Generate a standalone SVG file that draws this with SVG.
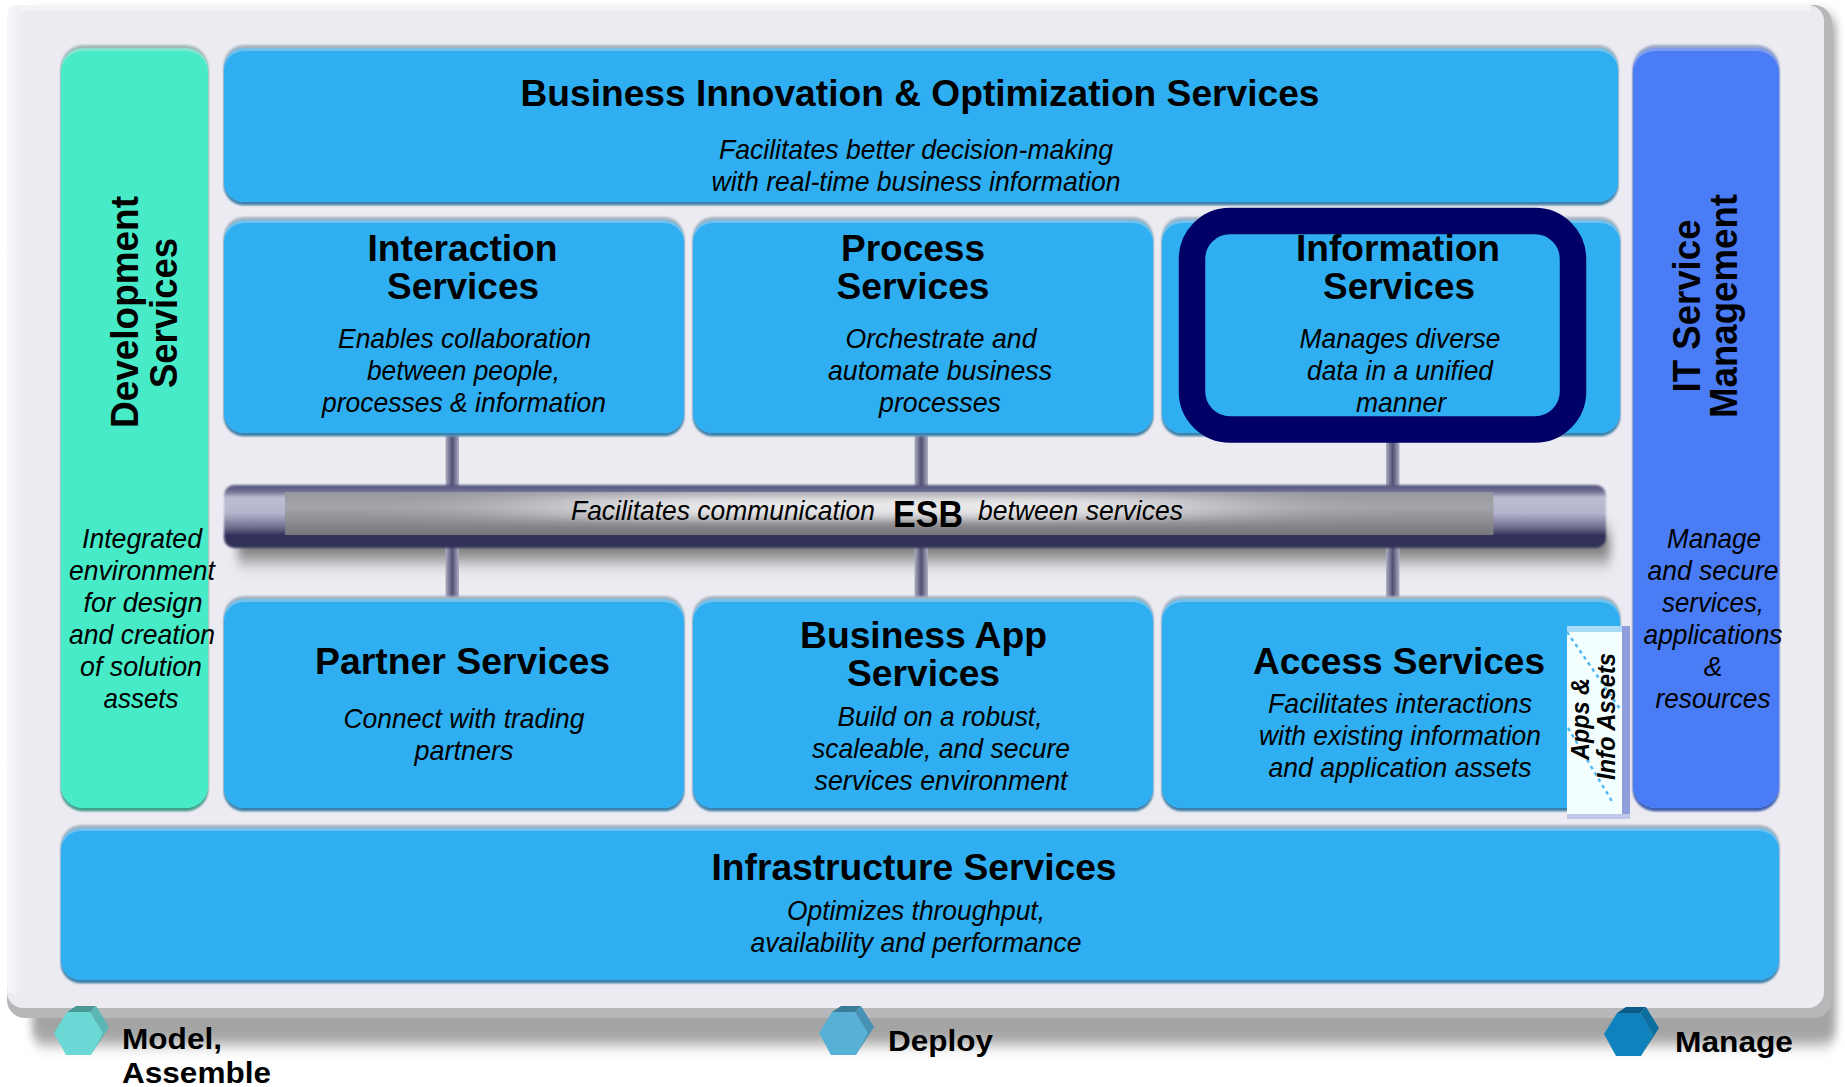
<svg xmlns="http://www.w3.org/2000/svg" width="1845" height="1087" viewBox="0 0 1845 1087">
<style>
text{font-family:"Liberation Sans",Arial,sans-serif;fill:#000;text-anchor:middle}
.t{font-weight:bold;font-size:37px}
.s{font-style:italic;font-size:28px}
.r{font-weight:bold;font-size:39px}
.l{font-weight:bold;font-size:30px;text-anchor:start}
.a{font-style:italic;font-weight:bold;font-size:26px}
.e1,.e2,.g1,.g2,.b1,.b2{filter:url(#soft)}
.e1{fill:#a3b3bf}.e2{fill:#3a80ab}.e4{fill:#72c0ec}.e3{fill:#2FAFF2}
.g1{fill:#a3b8b6}.g2{fill:#3c9f8a}.g4{fill:#86e4cf}.g3{fill:#47EBC8}
.b1{fill:#97a6c8}.b2{fill:#3c5cad}.b4{fill:#7d9cf0}.b3{fill:#4A7DF5}
.c{fill:url(#conn)}
</style>
<defs>
<filter id="soft" x="-2%" y="-2%" width="104%" height="104%"><feGaussianBlur stdDeviation="0.9"/></filter>
<filter id="blur" x="-3%" y="-5%" width="106%" height="110%"><feGaussianBlur stdDeviation="4 7"/></filter>
<filter id="blur2" x="-5%" y="-120%" width="110%" height="340%"><feGaussianBlur stdDeviation="5 9"/></filter>
<filter id="glow" x="-60%" y="-100%" width="220%" height="300%"><feGaussianBlur stdDeviation="90 5"/></filter>
<clipPath id="coreClip"><rect x="285" y="492" width="1208.500" height="43"/></clipPath>
<linearGradient id="pipe" x1="0" y1="0" x2="0" y2="1">
<stop offset="0" stop-color="#55557c"/><stop offset=".1" stop-color="#6d6d92"/><stop offset=".2" stop-color="#bcbdd3"/><stop offset=".45" stop-color="#b4b5cc"/><stop offset=".68" stop-color="#6b6b8c"/><stop offset=".8" stop-color="#2f2f58"/><stop offset="1" stop-color="#34345a"/>
</linearGradient>
<linearGradient id="core" x1="0" y1="0" x2="0" y2="1">
<stop offset="0" stop-color="#97979e"/><stop offset=".35" stop-color="#a4a4ab"/><stop offset="1" stop-color="#76767a"/>
</linearGradient>
<linearGradient id="conn" x1="0" y1="0" x2="1" y2="0">
<stop offset="0" stop-color="#aeaec2"/><stop offset=".5" stop-color="#4f4f73"/><stop offset="1" stop-color="#aeaec2"/>
</linearGradient>
<linearGradient id="rimL" x1="0" y1="0" x2="1" y2="0">
<stop offset="0" stop-color="#f8f8fa"/><stop offset="1" stop-color="#ecebf2"/>
</linearGradient>
</defs>

<g id="panel">
<rect x="32" y="14" width="1804" height="1031" rx="14" fill="#a4a4a4" filter="url(#blur)"/>
<rect x="7" y="5" width="1825" height="1013" rx="18" fill="#b7b7ba"/>
<rect x="7" y="5" width="1817" height="1003" rx="16" fill="#ecebf2"/>
<rect x="7" y="5" width="16" height="990" rx="10" fill="url(#rimL)"/>
<rect x="20" y="5" width="1790" height="6" fill="#f4f4f6"/>
</g>

<g id="development-services">
<rect x="61" y="45" width="147" height="766" rx="22" class="g1"/>
<rect x="61" y="50" width="147" height="761" rx="22" class="g2"/>
<rect x="61" y="48" width="147" height="760" rx="22" class="g4"/>
<rect x="61" y="51" width="147" height="757" rx="22" class="g3"/>
<text class="r" transform="translate(138,312) rotate(-90)" textLength="232" lengthAdjust="spacingAndGlyphs">Development</text>
<text class="r" transform="translate(177,313) rotate(-90)" textLength="150" lengthAdjust="spacingAndGlyphs">Services</text>
<text class="s" x="142" y="548" textLength="120" lengthAdjust="spacingAndGlyphs">Integrated</text>
<text class="s" x="142" y="580" textLength="146" lengthAdjust="spacingAndGlyphs">environment</text>
<text class="s" x="143" y="612" textLength="119" lengthAdjust="spacingAndGlyphs">for design</text>
<text class="s" x="142" y="644" textLength="146" lengthAdjust="spacingAndGlyphs">and creation</text>
<text class="s" x="141" y="676" textLength="122" lengthAdjust="spacingAndGlyphs">of solution</text>
<text class="s" x="141" y="708" textLength="75" lengthAdjust="spacingAndGlyphs">assets</text>
</g>

<g id="business-innovation">
<rect x="224" y="45" width="1394" height="160" rx="20" class="e1"/>
<rect x="224" y="50" width="1394" height="155" rx="20" class="e2"/>
<rect x="224" y="48" width="1394" height="154" rx="20" class="e4"/>
<rect x="224" y="51" width="1394" height="151" rx="20" class="e3"/>
<text class="t" x="920" y="106" textLength="799" lengthAdjust="spacingAndGlyphs">Business Innovation &amp; Optimization Services</text>
<text class="s" x="916" y="159" textLength="394" lengthAdjust="spacingAndGlyphs">Facilitates better decision-making</text>
<text class="s" x="916" y="191" textLength="409" lengthAdjust="spacingAndGlyphs">with real-time business information</text>
</g>

<g id="it-service-management">
<rect x="1633" y="45" width="146" height="766" rx="22" class="b1"/>
<rect x="1633" y="50" width="146" height="761" rx="22" class="b2"/>
<rect x="1633" y="48" width="146" height="760" rx="22" class="b4"/>
<rect x="1633" y="51" width="146" height="757" rx="22" class="b3"/>
<text class="r" transform="translate(1700,306) rotate(-90)" textLength="173" lengthAdjust="spacingAndGlyphs">IT Service</text>
<text class="r" transform="translate(1737,306) rotate(-90)" textLength="224" lengthAdjust="spacingAndGlyphs">Management</text>
<text class="s" x="1714" y="548" textLength="94" lengthAdjust="spacingAndGlyphs">Manage</text>
<text class="s" x="1713" y="580" textLength="131" lengthAdjust="spacingAndGlyphs">and secure</text>
<text class="s" x="1713" y="612" textLength="102" lengthAdjust="spacingAndGlyphs">services,</text>
<text class="s" x="1713" y="644" textLength="139" lengthAdjust="spacingAndGlyphs">applications</text>
<text class="s" x="1713" y="676">&amp;</text>
<text class="s" x="1713" y="708" textLength="115" lengthAdjust="spacingAndGlyphs">resources</text>
</g>

<g id="esb-shadow">
<rect x="238" y="530" width="1372" height="30" fill="#7a7a7a" filter="url(#blur2)"/>
</g>

<g id="connectors">
<rect x="445.500" y="434" width="13.500" height="54" class="c"/>
<rect x="914.500" y="434" width="13.500" height="54" class="c"/>
<rect x="1386" y="434" width="13.500" height="54" class="c"/>
<rect x="445.500" y="546" width="13.500" height="52" class="c"/>
<rect x="914.500" y="546" width="13.500" height="52" class="c"/>
<rect x="1386" y="546" width="13.500" height="52" class="c"/>
</g>

<g id="interaction-services">
<rect x="224" y="217" width="460" height="219" rx="20" class="e1"/>
<rect x="224" y="222" width="460" height="214" rx="20" class="e2"/>
<rect x="224" y="220" width="460" height="213" rx="20" class="e4"/>
<rect x="224" y="223" width="460" height="210" rx="20" class="e3"/>
<text class="t" x="462.500" y="261" textLength="190" lengthAdjust="spacingAndGlyphs">Interaction</text>
<text class="t" x="463" y="299" textLength="152" lengthAdjust="spacingAndGlyphs">Services</text>
<text class="s" x="464.500" y="348" textLength="253" lengthAdjust="spacingAndGlyphs">Enables collaboration</text>
<text class="s" x="463.500" y="380" textLength="193" lengthAdjust="spacingAndGlyphs">between people,</text>
<text class="s" x="464" y="412" textLength="284" lengthAdjust="spacingAndGlyphs">processes &amp; information</text>
</g>

<g id="process-services">
<rect x="693" y="217" width="460" height="219" rx="20" class="e1"/>
<rect x="693" y="222" width="460" height="214" rx="20" class="e2"/>
<rect x="693" y="220" width="460" height="213" rx="20" class="e4"/>
<rect x="693" y="223" width="460" height="210" rx="20" class="e3"/>
<text class="t" x="913" y="261" textLength="144" lengthAdjust="spacingAndGlyphs">Process</text>
<text class="t" x="913" y="299" textLength="153" lengthAdjust="spacingAndGlyphs">Services</text>
<text class="s" x="941" y="348" textLength="191" lengthAdjust="spacingAndGlyphs">Orchestrate and</text>
<text class="s" x="940" y="380" textLength="224" lengthAdjust="spacingAndGlyphs">automate business</text>
<text class="s" x="940" y="412" textLength="122" lengthAdjust="spacingAndGlyphs">processes</text>
</g>

<g id="information-services">
<rect x="1162" y="217" width="458" height="219" rx="20" class="e1"/>
<rect x="1162" y="222" width="458" height="214" rx="20" class="e2"/>
<rect x="1162" y="220" width="458" height="213" rx="20" class="e4"/>
<rect x="1162" y="223" width="458" height="210" rx="20" class="e3"/>
<text class="t" x="1398" y="261" textLength="204" lengthAdjust="spacingAndGlyphs">Information</text>
<text class="t" x="1399" y="299" textLength="152" lengthAdjust="spacingAndGlyphs">Services</text>
<text class="s" x="1400" y="348" textLength="201" lengthAdjust="spacingAndGlyphs">Manages diverse</text>
<text class="s" x="1400" y="380" textLength="186" lengthAdjust="spacingAndGlyphs">data in a unified</text>
<text class="s" x="1401" y="412" textLength="90" lengthAdjust="spacingAndGlyphs">manner</text>
<rect x="1192" y="221" width="381" height="208.500" rx="38" fill="none" stroke="#000066" stroke-width="26.500"/>
</g>

<g id="esb">
<rect x="224" y="485" width="1382" height="63" rx="10" fill="url(#pipe)" filter="url(#soft)"/>
<rect x="285" y="492" width="1208.500" height="43" fill="url(#core)"/>
<g clip-path="url(#coreClip)"><rect x="560" y="495" width="640" height="24" fill="#fff" opacity=".75" filter="url(#glow)"/></g>
<text class="s" x="723" y="520" textLength="304" lengthAdjust="spacingAndGlyphs">Facilitates communication</text>
<text class="t" x="928" y="527" textLength="70" lengthAdjust="spacingAndGlyphs">ESB</text>
<text class="s" x="1080.500" y="520" textLength="205" lengthAdjust="spacingAndGlyphs">between services</text>
</g>

<g id="partner-services">
<rect x="224" y="596" width="460" height="215" rx="20" class="e1"/>
<rect x="224" y="601" width="460" height="210" rx="20" class="e2"/>
<rect x="224" y="599" width="460" height="209" rx="20" class="e4"/>
<rect x="224" y="602" width="460" height="206" rx="20" class="e3"/>
<text class="t" x="462.500" y="674" textLength="295" lengthAdjust="spacingAndGlyphs">Partner Services</text>
<text class="s" x="464" y="728" textLength="241" lengthAdjust="spacingAndGlyphs">Connect with trading</text>
<text class="s" x="464" y="760" textLength="99" lengthAdjust="spacingAndGlyphs">partners</text>
</g>

<g id="business-app-services">
<rect x="693" y="596" width="460" height="215" rx="20" class="e1"/>
<rect x="693" y="601" width="460" height="210" rx="20" class="e2"/>
<rect x="693" y="599" width="460" height="209" rx="20" class="e4"/>
<rect x="693" y="602" width="460" height="206" rx="20" class="e3"/>
<text class="t" x="923.500" y="648" textLength="247" lengthAdjust="spacingAndGlyphs">Business App</text>
<text class="t" x="923.500" y="686" textLength="153" lengthAdjust="spacingAndGlyphs">Services</text>
<text class="s" x="940" y="726" textLength="205" lengthAdjust="spacingAndGlyphs">Build on a robust,</text>
<text class="s" x="941" y="758" textLength="258" lengthAdjust="spacingAndGlyphs">scaleable, and secure</text>
<text class="s" x="941" y="790" textLength="253" lengthAdjust="spacingAndGlyphs">services environment</text>
</g>

<g id="access-services">
<rect x="1162" y="596" width="458" height="215" rx="20" class="e1"/>
<rect x="1162" y="601" width="458" height="210" rx="20" class="e2"/>
<rect x="1162" y="599" width="458" height="209" rx="20" class="e4"/>
<rect x="1162" y="602" width="458" height="206" rx="20" class="e3"/>
<text class="t" x="1399" y="674" textLength="292" lengthAdjust="spacingAndGlyphs">Access Services</text>
<text class="s" x="1400" y="713" textLength="264" lengthAdjust="spacingAndGlyphs">Facilitates interactions</text>
<text class="s" x="1400" y="745" textLength="282" lengthAdjust="spacingAndGlyphs">with existing information</text>
<text class="s" x="1400" y="777" textLength="263" lengthAdjust="spacingAndGlyphs">and application assets</text>
</g>

<g id="infrastructure-services">
<rect x="61" y="825" width="1718" height="158" rx="20" class="e1"/>
<rect x="61" y="830" width="1718" height="153" rx="20" class="e2"/>
<rect x="61" y="828" width="1718" height="152" rx="20" class="e4"/>
<rect x="61" y="831" width="1718" height="149" rx="20" class="e3"/>
<text class="t" x="914" y="880" textLength="405" lengthAdjust="spacingAndGlyphs">Infrastructure Services</text>
<text class="s" x="916" y="920" textLength="258" lengthAdjust="spacingAndGlyphs">Optimizes throughput,</text>
<text class="s" x="916" y="952" textLength="331" lengthAdjust="spacingAndGlyphs">availability and performance</text>
</g>

<g id="apps-info-assets">
<rect x="1567" y="628" width="62" height="191" fill="#f3feff"/>
<rect x="1622" y="626" width="8" height="190" fill="#8f9fdc"/>
<rect x="1567" y="626" width="55" height="6" fill="#a6dcf5"/>
<rect x="1567" y="814" width="63" height="5" fill="#c2c6e8"/>
<path d="M1567 632L1620 709M1568 728L1613 803" fill="none" stroke="#55b8f0" stroke-width="2.500" stroke-dasharray="3.500 3.900"/>
<text class="a" transform="translate(1589,719) rotate(-90)" textLength="82" lengthAdjust="spacingAndGlyphs">Apps &amp;</text>
<text class="a" transform="translate(1615,716.500) rotate(-90)" textLength="127" lengthAdjust="spacingAndGlyphs">Info Assets</text>
</g>

<g id="model-assemble">
<polygon points="67,1012 90,1012 103,1033 91,1055 66,1055 54,1033" fill="#6ad8d4"/>
<polygon points="67,1012 76,1006 96,1006 90,1012" fill="#4c9896"/>
<polygon points="96,1006 109,1027 91,1055 103,1033 90,1012" fill="#5ab7b5"/>
<text class="l" x="122" y="1049" textLength="100" lengthAdjust="spacingAndGlyphs">Model,</text>
<text class="l" x="122" y="1083" textLength="149" lengthAdjust="spacingAndGlyphs">Assemble</text>
</g>
<g id="deploy">
<polygon points="832,1012 855,1012 868,1033 856,1055 831,1055 819,1033" fill="#57b0d6"/>
<polygon points="832,1012 841,1006 861,1006 855,1012" fill="#3a7c99"/>
<polygon points="861,1006 874,1027 856,1055 868,1033 855,1012" fill="#4592b5"/>
<text class="l" x="888" y="1051" textLength="105" lengthAdjust="spacingAndGlyphs">Deploy</text>
</g>
<g id="manage">
<polygon points="1617,1013 1640,1013 1653,1034 1641,1056 1616,1056 1604,1034" fill="#0f82bd"/>
<polygon points="1617,1013 1626,1007 1646,1007 1640,1013" fill="#0b5b86"/>
<polygon points="1646,1007 1659,1028 1641,1056 1653,1034 1640,1013" fill="#0c6f9f"/>
<text class="l" x="1675" y="1052" textLength="118" lengthAdjust="spacingAndGlyphs">Manage</text>
</g>
</svg>
